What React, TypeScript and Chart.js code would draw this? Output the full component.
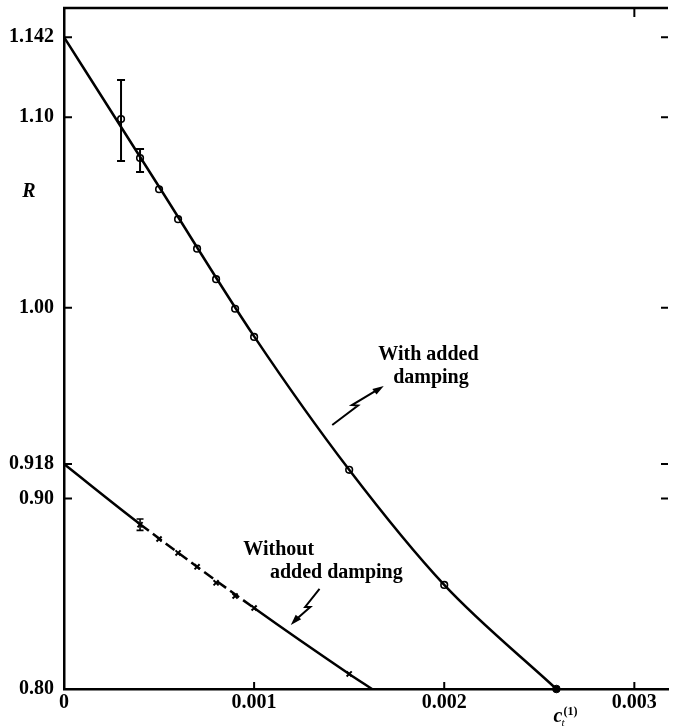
import { useEffect, useRef } from "react";
import { Chart, registerables } from "chart.js";

Chart.register(...registerables);

// ---- data ----
// fitted curve "with added damping"
const withCurveX = [0, 0.0005, 0.001, 0.0015, 0.002, 0.00259];
const withCurveR = [1.142, 1.0635, 0.985, 0.915, 0.8546, 0.8];
// measured points "with added damping"
const withPtX = [0.0003, 0.0004, 0.0005, 0.0006, 0.0007, 0.0008, 0.0009, 0.001, 0.0015, 0.002];
const withPtR = [1.099, 1.0786, 1.0622, 1.0465, 1.031, 1.015, 0.9995, 0.9847, 0.915, 0.8546];
const withErrX = [0.0003, 0.0004];
const withErrLow = [1.077, 1.0713];
const withErrHigh = [1.1195, 1.0833];

// fitted line "without added damping"
const withoutCurveX = [0, 0.0004, 0.001, 0.0015, 0.00162];
const withoutCurveR = [0.918, 0.8865, 0.8425, 0.8079, 0.8];
// measured points "without added damping"
const withoutPtX = [0.0004, 0.0005, 0.0006, 0.0007, 0.0008, 0.0009, 0.001, 0.0015];
const withoutPtR = [0.8862, 0.8787, 0.8714, 0.8641, 0.8557, 0.8488, 0.8425, 0.8079];
const withoutErrX = [0.0004];
const withoutErrLow = [0.8832];
const withoutErrHigh = [0.8892];

// critical value c_t^(1) where R = 0.80
const criticalC = [0.00259];
const criticalR = [0.8];

const xTicks = [0, 0.001, 0.002, 0.003];
const xTickLabels = ["0", "0.001", "0.002", "0.003"];
const yTicks = [0.8, 0.9, 0.918, 1.0, 1.1, 1.142];
const yTickLabels = ["0.80", "0.90", "0.918", "1.00", "1.10", "1.142"];

// ---- layout / style ----
const W = 674;
const H = 728;
const X_MAX = 0.003177;
const Y_MIN = 0.8;
const Y_MAX = 1.1573;
const SERIF = '"Liberation Serif", "DejaVu Serif", serif';
const FONT = `bold 20px ${SERIF}`;

function zigArrow(ctx: CanvasRenderingContext2D, x1: number, y1: number, x2: number, y2: number) {
  const dx = x2 - x1;
  const dy = y2 - y1;
  const L = Math.hypot(dx, dy);
  const ux = dx / L;
  const uy = dy / L;
  const nx = -uy;
  const ny = ux;
  const P = (t: number, s: number): [number, number] => [x1 + ux * L * t + nx * s, y1 + uy * L * t + ny * s];
  const headLen = 11;
  const headW = 3.5;
  ctx.save();
  ctx.strokeStyle = "#000";
  ctx.fillStyle = "#000";
  ctx.lineWidth = 2;
  ctx.lineJoin = "miter";
  ctx.beginPath();
  ctx.moveTo(...P(0, 0));
  ctx.lineTo(...P(0.5, 0));
  ctx.lineTo(...P(0.43, -4));
  const endT = (L - headLen + 2) / L;
  ctx.lineTo(...P(endT, -1));
  ctx.stroke();
  ctx.beginPath();
  ctx.moveTo(x2, y2);
  const b = P((L - headLen) / L, -1);
  ctx.lineTo(b[0] + nx * headW, b[1] + ny * headW);
  ctx.lineTo(b[0] - nx * headW, b[1] - ny * headW);
  ctx.closePath();
  ctx.fill();
  ctx.restore();
}

const extrasPlugin = {
  id: "extras",
  afterDatasetsDraw(chart: any) {
    const ctx: CanvasRenderingContext2D = chart.ctx;
    const xs = chart.scales.x;
    const ys = chart.scales.y;
    const { left, right, top, bottom } = chart.chartArea;
    const px = (v: number) => xs.getPixelForValue(v);
    const py = (v: number) => ys.getPixelForValue(v);

    ctx.save();
    ctx.strokeStyle = "#000";
    ctx.fillStyle = "#000";

    // top frame line
    ctx.lineWidth = 2.5;
    ctx.beginPath();
    ctx.moveTo(left - 1, top);
    ctx.lineTo(right, top);
    ctx.stroke();

    // inward tick marks
    ctx.lineWidth = 2;
    ctx.beginPath();
    yTicks.forEach((v) => {
      if (v === Y_MIN) return;
      const y = py(v);
      ctx.moveTo(left, y);
      ctx.lineTo(left + 8, y);
      ctx.moveTo(right, y);
      ctx.lineTo(right - 7, y);
    });
    xTicks.forEach((v, i) => {
      if (v === 0) return;
      const x = px(v);
      ctx.moveTo(x, bottom);
      ctx.lineTo(x, bottom - 7);
      if (i === xTicks.length - 1) {
        ctx.moveTo(x, top);
        ctx.lineTo(x, top + 9);
      }
    });
    ctx.stroke();

    // error bars
    const errBar = (x: number, lo: number, hi: number, cap: number) => {
      const X = px(x);
      const y1 = py(lo);
      const y2 = py(hi);
      ctx.beginPath();
      ctx.moveTo(X, y1);
      ctx.lineTo(X, y2);
      ctx.moveTo(X - cap, y1);
      ctx.lineTo(X + cap, y1);
      ctx.moveTo(X - cap, y2);
      ctx.lineTo(X + cap, y2);
      ctx.stroke();
    };
    ctx.lineWidth = 2;
    withErrX.forEach((x, i) => errBar(x, withErrLow[i], withErrHigh[i], 4));
    ctx.lineWidth = 1.6;
    withoutErrX.forEach((x, i) => errBar(x, withoutErrLow[i], withoutErrHigh[i], 3.5));

    // annotations
    ctx.font = FONT;
    ctx.textBaseline = "alphabetic";
    ctx.textAlign = "center";
    ctx.fillText("With added", px(0.001917), py(0.9726));
    ctx.fillText("damping", px(0.00193), py(0.9605));
    zigArrow(ctx, px(0.001411), py(0.9385), px(0.001682), py(0.959));

    ctx.textAlign = "left";
    ctx.fillText("Without", px(0.000943), py(0.8703));
    ctx.fillText("added damping", px(0.001083), py(0.8582));
    zigArrow(ctx, px(0.001344), py(0.8525), px(0.001193), py(0.8336));

    // axis titles
    ctx.font = `bold italic 20px ${SERIF}`;
    ctx.textAlign = "center";
    ctx.fillText("R", left - 35, py(1.062) + 7);

    const cx = px(criticalC[0]);
    const cy = bottom + 33;
    ctx.font = `bold italic 20px ${SERIF}`;
    ctx.textAlign = "left";
    ctx.fillText("c", cx - 3, cy);
    ctx.font = `italic 11px ${SERIF}`;
    ctx.fillText("t", cx + 5, cy + 4);
    ctx.font = `bold 12px ${SERIF}`;
    ctx.fillText("(1)", cx + 7, cy - 7);

    ctx.restore();
  },
};

export default function App() {
  const canvasRef = useRef<HTMLCanvasElement | null>(null);

  useEffect(() => {
    if (!canvasRef.current) return;
    const pts = (xs: number[], ys: number[]) => xs.map((x, i) => ({ x, y: ys[i] }));

    const chart = new Chart(canvasRef.current, {
      type: "scatter",
      data: {
        datasets: [
          {
            label: "With added damping (curve)",
            data: pts(withCurveX, withCurveR),
            showLine: true,
            borderColor: "#000",
            borderWidth: 2.5,
            cubicInterpolationMode: "monotone",
            pointRadius: 0,
            clip: 10,
          } as any,
          {
            label: "With added damping (points)",
            data: pts(withPtX, withPtR),
            showLine: false,
            pointStyle: "circle",
            pointRadius: 3.3,
            pointBorderWidth: 1.6,
            pointBorderColor: "#000",
            pointBackgroundColor: "rgba(255,255,255,0)",
            clip: 10,
          } as any,
          {
            label: "Without added damping (line)",
            data: pts(withoutCurveX, withoutCurveR),
            showLine: true,
            borderColor: "#000",
            borderWidth: 2.5,
            cubicInterpolationMode: "monotone",
            pointRadius: 0,
            segment: {
              borderDash: (c: any) => (c.p0DataIndex === 1 ? [11, 5] : undefined),
            },
            clip: 10,
          } as any,
          {
            label: "Without added damping (points)",
            data: pts(withoutPtX, withoutPtR),
            showLine: false,
            pointStyle: "crossRot",
            pointRadius: 3.6,
            pointBorderWidth: 2,
            pointBorderColor: "#000",
            clip: 10,
          } as any,
          {
            label: "critical",
            data: pts(criticalC, criticalR),
            showLine: false,
            pointStyle: "circle",
            pointRadius: 3.8,
            pointBorderWidth: 1,
            pointBorderColor: "#000",
            pointBackgroundColor: "#000",
            clip: 10,
          } as any,
        ],
      },
      options: {
        responsive: false,
        animation: false,
        devicePixelRatio: 1,
        layout: { padding: { top: 8, left: 0, right: 0, bottom: 0 } },
        plugins: {
          legend: { display: false },
          tooltip: { enabled: false },
        },
        scales: {
          x: {
            type: "linear",
            min: 0,
            max: X_MAX,
            afterBuildTicks: (s: any) => {
              s.ticks = xTicks.map((v) => ({ value: v }));
            },
            afterFit: (s: any) => {
              s.height = H - 689;
              s.paddingLeft = 0;
              s.paddingRight = 0;
            },
            ticks: {
              autoSkip: false,
              maxRotation: 0,
              padding: 2,
              color: "#000",
              font: { family: SERIF, size: 20, weight: "bold" },
              callback: (v: any) => {
                const i = xTicks.findIndex((t) => Math.abs(t - Number(v)) < 1e-9);
                return i >= 0 ? xTickLabels[i] : "";
              },
            },
            grid: { display: true, drawOnChartArea: false, drawTicks: false, color: "rgba(0,0,0,0)" },
            border: { display: true, color: "#000", width: 2.5 },
          },
          y: {
            type: "linear",
            min: Y_MIN,
            max: Y_MAX,
            afterBuildTicks: (s: any) => {
              s.ticks = yTicks.map((v) => ({ value: v }));
            },
            afterFit: (s: any) => {
              s.width = 64;
              s.paddingTop = 0;
              s.paddingBottom = 0;
            },
            ticks: {
              autoSkip: false,
              padding: 10,
              color: "#000",
              font: { family: SERIF, size: 20, weight: "bold" },
              callback: (v: any) => {
                const i = yTicks.findIndex((t) => Math.abs(t - Number(v)) < 1e-9);
                return i >= 0 ? yTickLabels[i] : "";
              },
            },
            grid: { display: true, drawOnChartArea: false, drawTicks: false, color: "rgba(0,0,0,0)" },
            border: { display: true, color: "#000", width: 2.5 },
          },
        },
      },
      plugins: [extrasPlugin],
    });
    return () => chart.destroy();
  }, []);

  return (
    <div style={{ position: "fixed", left: 0, top: 0, width: W, height: H, background: "#fff" }}>
      <canvas ref={canvasRef} width={W} height={H} style={{ width: W, height: H, display: "block" }} />
    </div>
  );
}
